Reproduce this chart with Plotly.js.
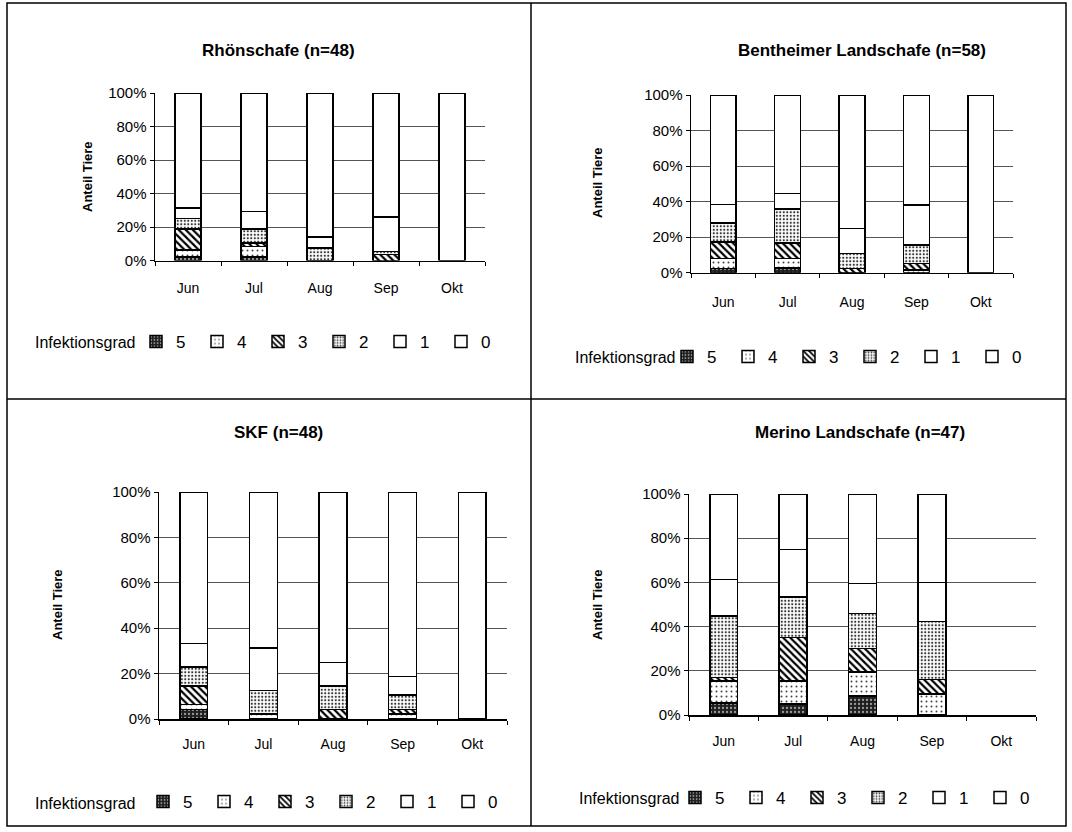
<!DOCTYPE html>
<html><head><meta charset="utf-8">
<script src="https://cdn.plot.ly/plotly-3.0.1.min.js"></script>
<style>html,body{margin:0;padding:0;background:#fff}#chart{width:1072px;height:832px}</style>
</head><body><div id="chart"></div>
<script>
const months = ['Jun','Jul','Aug','Sep','Okt'];
const grades = ['5','4','3','2','1','0'];
const yTickVals = [0,20,40,60,80,100];
const yTickText = ['0%','20%','40%','60%','80%','100%'];
const panelTitles = ['Rhönschafe (n=48)','Bentheimer Landschafe (n=58)','SKF (n=48)','Merino Landschafe (n=47)'];
const legendTitle = 'Infektionsgrad';
const yAxisTitle = 'Anteil Tiere';

// rows: Infektionsgrad 5,4,3,2,1,0 ; columns: Jun, Jul, Aug, Sep, Okt (% of animals)
const rhoen = [
  [2.1, 2.1, 0, 0, 0],
  [4.2, 6.3, 0, 0, 0],
  [12.5, 2.1, 0, 3.5, 0],
  [6.3, 8.3, 7.5, 2.0, 0],
  [6.2, 10.4, 6.5, 20.5, 0],
  [68.7, 70.8, 86.0, 74.0, 100]
];
const bentheimer = [
  [2.5, 2.8, 0, 0, 0],
  [5.5, 5.2, 0, 1.7, 0],
  [9.3, 8.8, 2.5, 3.4, 0],
  [10.6, 19.2, 8.3, 10.5, 0],
  [10.5, 8.7, 14.0, 22.4, 0],
  [61.6, 55.3, 75.2, 62.0, 100]
];
const skf = [
  [4.2, 0, 0, 0, 0],
  [2.1, 2.1, 0, 2.1, 0],
  [8.3, 0, 4.2, 2.1, 0],
  [8.3, 10.4, 10.4, 6.3, 0],
  [10.4, 18.8, 10.4, 8.3, 0],
  [66.7, 68.7, 75.0, 81.2, 100]
];
const merino = [
  [5.5, 5.0, 8.5, 0, null],
  [10.0, 10.5, 11.0, 9.5, null],
  [1.5, 19.5, 10.6, 6.5, null],
  [27.7, 18.5, 15.9, 26.4, null],
  [16.6, 21.5, 13.6, 17.6, null],
  [38.7, 25.0, 40.4, 40.0, null]
];
const panels = [rhoen, bentheimer, skf, merino];

const W = 1072, H = 832;
const FONT = 'Liberation Sans, Arial, sans-serif';
const px = v => v / W;
const py = v => 1 - v / H;

// plot areas in pixels [left, right, top, bottom]
const boxes = [
  [155, 485, 93, 260.5],
  [691, 1013, 95, 272.8],
  [159, 507, 492, 719],
  [689, 1036, 494, 715]
];
const titlePos = [[278, 50], [862, 50], [278, 432], [860, 432]];
const yTitlePos = [[88, 177], [597, 183], [57, 605], [597, 605]];
const legTitlePos = [[33, 342], [573, 357], [33, 803], [577, 798]];
const legendPos = [[156, 342], [687, 357], [163, 802], [695, 798]];
const tickStandoff = [14, 16, 12, 13];

const patterns = [
  {shape: '.', bgcolor: '#1e1e1e', fgcolor: '#9a9a9a', size: 4, solidity: 0.25},
  {shape: '.', bgcolor: '#ffffff', fgcolor: '#444444', size: 5, solidity: 0.12},
  {shape: '\\', bgcolor: '#ffffff', fgcolor: '#000000', size: 5, solidity: 0.45},
  {shape: '.', bgcolor: '#ffffff', fgcolor: '#333333', size: 3.5, solidity: 0.3},
  {shape: '', bgcolor: '#ffffff', fgcolor: '#ffffff'},
  {shape: '', bgcolor: '#ffffff', fgcolor: '#ffffff'}
];
const fills = ['#1e1e1e', '#ffffff', '#ffffff', '#ffffff', '#ffffff', '#ffffff'];

const traces = [];
const layout = {
  width: W, height: H,
  margin: {l: 0, r: 0, t: 0, b: 0},
  paper_bgcolor: '#fff', plot_bgcolor: '#fff',
  font: {family: FONT, color: '#000'},
  barmode: 'stack', bargap: 0.6,
  annotations: [], shapes: []
};

panels.forEach((data, p) => {
  const n = p === 0 ? '' : String(p + 1);
  const legName = 'legend' + n;
  data.forEach((row, g) => {
    const pat = Object.assign({fillmode: 'replace'}, patterns[g]);
    traces.push({
      type: 'bar', x: months, y: row, name: grades[g],
      xaxis: 'x' + n, yaxis: 'y' + n, legend: legName,
      marker: {color: fills[g], line: {color: '#000', width: 1.5}, pattern: pat},
      hoverinfo: 'skip'
    });
  });
  const b = boxes[p];
  layout['xaxis' + n] = {
    domain: [px(b[0]), px(b[1])], anchor: 'y' + n, type: 'category',
    range: [-0.5, 4.5], showline: true, linecolor: '#000', linewidth: 1.5,
    ticks: 'outside', tickson: 'boundaries', ticklen: 4, tickcolor: '#000',
    ticklabelstandoff: tickStandoff[p],
    showgrid: false, tickfont: {size: 14, family: FONT}, fixedrange: true
  };
  layout['yaxis' + n] = {
    domain: [py(b[3]), py(b[2])], anchor: 'x' + n, range: [0, 100],
    tickvals: yTickVals, ticktext: yTickText,
    showline: true, linecolor: '#000', linewidth: 1.5,
    ticks: 'outside', ticklen: 4, tickcolor: '#000',
    showgrid: true, gridcolor: '#555', gridwidth: 1,
    zeroline: false, tickfont: {size: 15, family: FONT}, fixedrange: true
  };
  layout[legName] = {
    orientation: 'h', x: px(legendPos[p][0] - 20), y: py(legendPos[p][1]),
    xanchor: 'left', yanchor: 'middle',
    font: {size: 17, family: FONT}, entrywidth: 16, entrywidthmode: 'pixels',
    itemwidth: 30, bgcolor: 'rgba(0,0,0,0)', traceorder: 'normal',
    itemclick: false, itemdoubleclick: false
  };
  layout.annotations.push({
    text: legendTitle, xref: 'paper', yref: 'paper',
    x: px(legTitlePos[p][0]), y: py(legTitlePos[p][1]), xanchor: 'left', yanchor: 'middle',
    showarrow: false, font: {size: 16, family: FONT}
  });
  layout.annotations.push({
    text: '<b>' + panelTitles[p] + '</b>', xref: 'paper', yref: 'paper',
    x: px(titlePos[p][0]), y: py(titlePos[p][1]), xanchor: 'center', yanchor: 'middle',
    showarrow: false, font: {size: 17, family: FONT}
  });
  layout.annotations.push({
    text: '<b>' + yAxisTitle + '</b>', xref: 'paper', yref: 'paper', textangle: -90,
    x: px(yTitlePos[p][0]), y: py(yTitlePos[p][1]), xanchor: 'center', yanchor: 'middle',
    showarrow: false, font: {size: 13, family: FONT}
  });
});

// panel frame
const frame = {l: 7, r: 1066, t: 3, b: 826, mx: 531, my: 399};
const ln = {color: '#000', width: 1.5};
layout.shapes.push(
  {type: 'rect', xref: 'paper', yref: 'paper', x0: px(frame.l), x1: px(frame.r), y0: py(frame.b), y1: py(frame.t), line: ln},
  {type: 'line', xref: 'paper', yref: 'paper', x0: px(frame.mx), x1: px(frame.mx), y0: py(frame.b), y1: py(frame.t), line: ln},
  {type: 'line', xref: 'paper', yref: 'paper', x0: px(frame.l), x1: px(frame.r), y0: py(frame.my), y1: py(frame.my), line: ln}
);

Plotly.newPlot('chart', traces, layout, {staticPlot: true, displayModeBar: false});
</script></body></html>
